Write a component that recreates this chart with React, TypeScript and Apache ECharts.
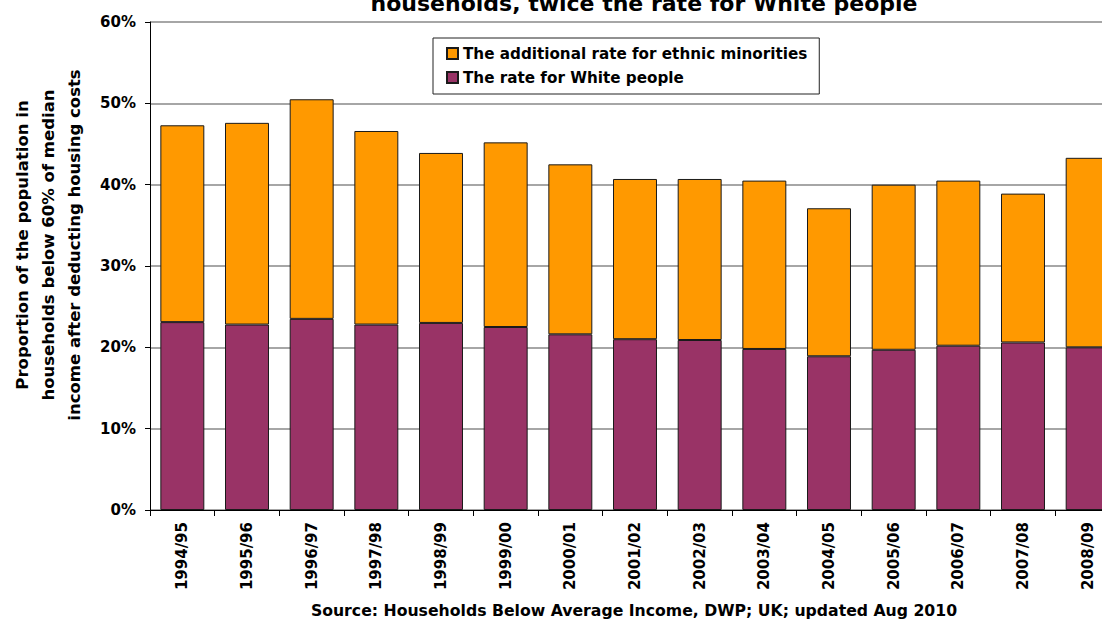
import React, { useEffect, useRef } from "react";
import * as echarts from "echarts";

const categories = [
  "1994/95", "1995/96", "1996/97", "1997/98", "1998/99", "1999/00", "2000/01", "2001/02",
  "2002/03", "2003/04", "2004/05", "2005/06", "2006/07", "2007/08", "2008/09",
];
const whiteRate = [23.1, 22.8, 23.5, 22.8, 23.0, 22.5, 21.6, 21.0, 20.9, 19.8, 18.9, 19.7, 20.2, 20.6, 20.0];
const additionalRate = [24.2, 24.8, 27.0, 23.8, 20.9, 22.7, 20.9, 19.7, 19.8, 20.7, 18.2, 20.3, 20.3, 18.3, 23.3];
const yTicks = { min: 0, max: 60, interval: 10 };

const titleText = "households, twice the rate for White people";
const yAxisTitle = "Proportion of the population in\nhouseholds below 60% of median\nincome after deducting housing costs";
const sourceText = "Source: Households Below Average Income, DWP; UK; updated Aug 2010";
const seriesNames = ["The additional rate for ethnic minorities", "The rate for White people"];

const FONT = "'DejaVu Sans', 'Liberation Sans', Arial, sans-serif";

export default function App() {
  const ref = useRef<HTMLDivElement>(null);
  useEffect(() => {
    if (!ref.current) return;
    const chart = echarts.init(ref.current, null, { renderer: "svg" });
    chart.setOption({
      animation: false,
      backgroundColor: "#ffffff",
      title: {
        text: titleText,
        left: 644,
        textAlign: "center",
        top: -8,
        padding: 0,
        textStyle: { fontFamily: FONT, fontWeight: "bold", fontSize: 22, color: "#000" },
      },
      legend: {
        data: seriesNames.map((n) => ({ name: n, icon: "rect" })),
        orient: "vertical",
        left: 433,
        top: 38,
        padding: [8, 12, 9, 13],
        itemGap: 9,
        itemWidth: 11,
        itemHeight: 11,
        borderColor: "#222",
        borderWidth: 1,
        backgroundColor: "#fff",
        textStyle: { fontFamily: FONT, fontWeight: "bold", fontSize: 15.2, color: "#000" },
      },
      grid: { left: 150, top: 22, width: 970, height: 488 },
      xAxis: {
        type: "category",
        data: categories,
        axisLine: { lineStyle: { color: "#000", width: 1 } },
        axisTick: { show: true, length: 6, lineStyle: { color: "#000" } },
        axisLabel: {
          rotate: 90,
          margin: 12,
          interval: 0,
          fontFamily: FONT,
          fontWeight: "bold",
          fontSize: 15,
          color: "#000",
        },
      },
      yAxis: {
        type: "value",
        min: yTicks.min,
        max: yTicks.max,
        interval: yTicks.interval,
        axisLine: { show: true, lineStyle: { color: "#000", width: 1 } },
        axisTick: { show: true, length: 5, lineStyle: { color: "#000" } },
        axisLabel: {
          formatter: "{value}%",
          margin: 14,
          fontFamily: FONT,
          fontWeight: "bold",
          fontSize: 15,
          color: "#000",
        },
        splitLine: { show: true, lineStyle: { color: "#888", width: 1.5 } },
      },
      series: [
        {
          name: seriesNames[1],
          type: "bar",
          stack: "total",
          data: whiteRate,
          barWidth: "68%",
          itemStyle: { color: "#993366", borderColor: "#1a1a1a", borderWidth: 1 },
        },
        {
          name: seriesNames[0],
          type: "bar",
          stack: "total",
          data: additionalRate,
          barWidth: "68%",
          itemStyle: { color: "#FF9900", borderColor: "#1a1a1a", borderWidth: 1 },
        },
      ],
      graphic: [
        {
          type: "text",
          x: 48,
          y: 245,
          rotation: Math.PI / 2,
          style: {
            text: yAxisTitle,
            fontFamily: FONT,
            fontWeight: "bold",
            fontSize: 16.5,
            lineHeight: 26,
            fill: "#000",
            textAlign: "center",
            textVerticalAlign: "middle",
          },
        },
        {
          type: "text",
          x: 634,
          y: 610,
          style: {
            text: sourceText,
            fontFamily: FONT,
            fontWeight: "bold",
            fontSize: 15.7,
            fill: "#000",
            textAlign: "center",
            textVerticalAlign: "middle",
          },
        },
      ],
    });
    return () => chart.dispose();
  }, []);
  return (
    <div style={{ position: "fixed", left: 0, top: 0, width: 1102, height: 619, overflow: "hidden", background: "#fff" }}>
      <div ref={ref} style={{ width: 1125, height: 619 }} />
    </div>
  );
}
